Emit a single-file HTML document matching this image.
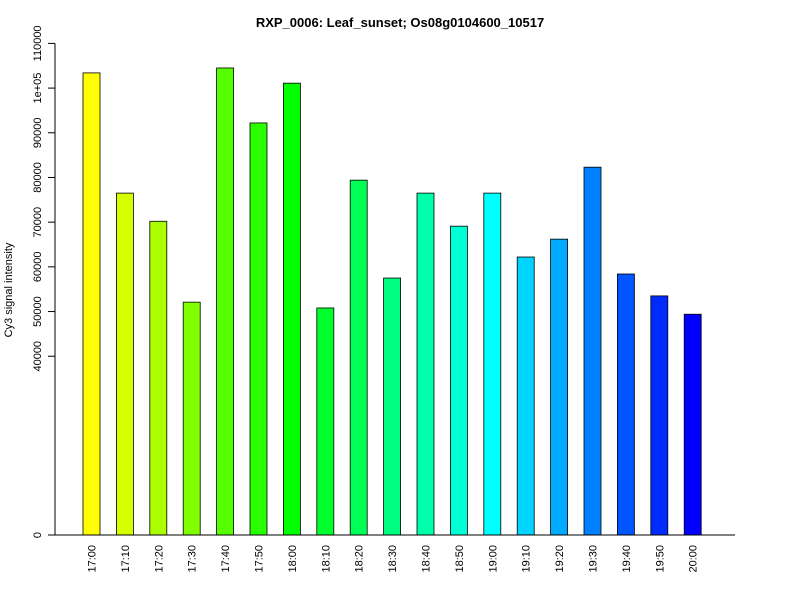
<!DOCTYPE html>
<html><head><meta charset="utf-8"><style>body{margin:0;background:#fff}svg{font-family:"Liberation Sans",Arial,sans-serif}</style></head>
<body>
<svg id="c" width="800" height="600">
<text x="400" y="27" text-anchor="middle" font-weight="bold" font-size="13">RXP_0006: Leaf_sunset; Os08g0104600_10517</text>
<text transform="translate(12,290) rotate(-90)" text-anchor="middle" font-size="11">Cy3 signal intensity</text>
<g id="yaxis"></g>
<g id="bars"></g>
<g id="xlabels"></g>
<line x1="55" y1="535" x2="735" y2="535" stroke="#000"/>
</svg>
<script>
const categories=["17:00","17:10","17:20","17:30","17:40","17:50","18:00","18:10","18:20","18:30","18:40","18:50","19:00","19:10","19:20","19:30","19:40","19:50","20:00"];
const values=[103400,76500,70200,52100,104500,92200,101100,50800,79400,57500,76500,69100,76500,62200,66200,82300,58400,53500,49400];
const yTicks=[0,40000,50000,60000,70000,80000,90000,100000,110000];
const yTickLabels=["0","40000","50000","60000","70000","80000","90000","1e+05","110000"];
const NS="http://www.w3.org/2000/svg";
function y(v){return 535-v*(535-43.4)/110000;}
function x(i){return 83+i*33.4;}
const ya=document.getElementById('yaxis');
let l=document.createElementNS(NS,'line');
l.setAttribute('x1',55);l.setAttribute('x2',55);l.setAttribute('y1',y(0));l.setAttribute('y2',y(110000));l.setAttribute('stroke','#000');


ya.appendChild(l);
yTicks.forEach((t,k)=>{
 const tk=document.createElementNS(NS,'line');
 tk.setAttribute('x1',48);tk.setAttribute('x2',55);tk.setAttribute('y1',y(t));tk.setAttribute('y2',y(t));tk.setAttribute('stroke','#000');
 
 
 ya.appendChild(tk);
 const tx=document.createElementNS(NS,'text');
 tx.setAttribute('transform',`translate(41,${y(t)}) rotate(-90)`);
 tx.setAttribute('text-anchor','middle');tx.setAttribute('font-size','11');
 tx.textContent=yTickLabels[k];
 
 
 ya.appendChild(tx);
});
const bg=document.getElementById('bars'),xl=document.getElementById('xlabels');
values.forEach((v,i)=>{
 const r=document.createElementNS(NS,'rect');
 r.setAttribute('x',x(i));r.setAttribute('width',17);r.setAttribute('y',y(v));r.setAttribute('height',y(0)-y(v));
 r.setAttribute('fill',`hsl(${60+i*180/(values.length-1)},100%,50%)`);r.setAttribute('stroke','#000');r.setAttribute('stroke-width','0.8');
 
 
 bg.appendChild(r);
 const t=document.createElementNS(NS,'text');
 t.setAttribute('transform',`translate(${x(i)+12.5},545) rotate(-90)`);
 t.setAttribute('text-anchor','end');t.setAttribute('font-size','11');
 t.textContent=categories[i];
 
 
 xl.appendChild(t);
});
</script>
</body></html>
